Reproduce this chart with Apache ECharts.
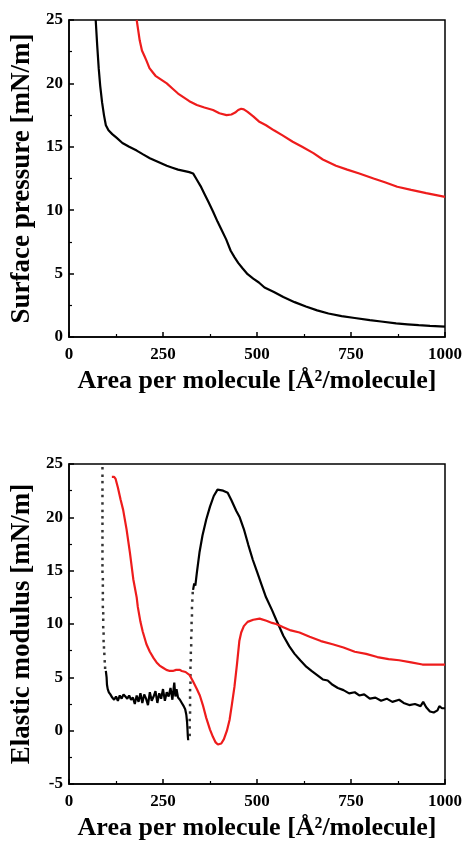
<!DOCTYPE html>
<html>
<head>
<meta charset="utf-8">
<script src="https://cdn.jsdelivr.net/npm/echarts@6/dist/echarts.min.js"></script>
<style>
  html, body { margin: 0; padding: 0; background: #fff; }
  #chart { width: 465px; height: 843px; }
</style>
</head>
<body>
<div id="chart"></div>
<script>
// surface pressure isotherms
const pressureBlackX = [71, 75, 79, 83, 88, 93, 98, 105, 115, 127, 142, 160, 180, 197, 215, 230, 245, 260, 275, 290, 305, 320, 330, 340, 350, 360, 370, 383, 395, 405, 418, 430, 440, 450, 462, 475, 490, 505, 520, 545, 570, 600, 630, 660, 690, 725, 760, 800, 830, 870, 900, 930, 960, 1000]
const pressureBlackY = [25, 23, 21.2, 19.8, 18.5, 17.5, 16.7, 16.3, 16.0, 15.7, 15.3, 15.0, 14.7, 14.4, 14.1, 13.9, 13.7, 13.5, 13.35, 13.2, 13.1, 13.0, 12.9, 12.4, 11.9, 11.3, 10.7, 9.9, 9.1, 8.5, 7.7, 6.8, 6.3, 5.85, 5.4, 4.95, 4.6, 4.3, 3.9, 3.55, 3.15, 2.75, 2.4, 2.1, 1.85, 1.65, 1.5, 1.33, 1.22, 1.07, 1.0, 0.93, 0.88, 0.82]

const pressureRedX = [180, 184, 188, 194, 200, 206, 214, 222, 230, 245, 260, 275, 290, 305, 320, 340, 360, 383, 400, 419, 432, 442, 450, 458, 465, 475, 490, 505, 524, 545, 568, 595, 620, 650, 675, 710, 740, 772, 810, 840, 873, 910, 950, 1000]
const pressureRedY = [25, 24.2, 23.4, 22.6, 22.2, 21.8, 21.2, 20.9, 20.6, 20.3, 20.0, 19.6, 19.2, 18.9, 18.6, 18.3, 18.1, 17.9, 17.65, 17.5, 17.55, 17.7, 17.9, 18.0, 17.95, 17.75, 17.4, 17.0, 16.7, 16.3, 15.9, 15.4, 15.0, 14.5, 14.0, 13.5, 13.2, 12.9, 12.5, 12.2, 11.85, 11.6, 11.35, 11.05]

// elastic modulus, black: sparse dots + dense parts
const elasticBlackDots1X = [89, 89, 89, 89, 89, 89, 89, 89, 89, 89, 89, 89, 89, 89, 89, 89, 90, 90, 90, 90, 90, 91, 91, 91, 92, 92, 93, 94, 95, 96]
const elasticBlackDots1Y = [24.6, 23.9, 23.3, 22.6, 22.0, 21.3, 20.6, 20.0, 19.4, 18.7, 18.1, 17.4, 16.8, 16.1, 15.5, 14.9, 14.2, 13.6, 12.9, 12.3, 11.6, 11.0, 10.4, 9.7, 9.1, 8.4, 7.8, 7.2, 6.5, 5.9]

const elasticBlackAX = [98, 100, 101, 103, 106, 110, 115, 120, 125, 130, 135, 140, 145, 150, 155, 160, 165, 170, 175, 180, 185, 190, 195, 200, 205, 210, 215, 220, 225, 230, 235, 240, 245, 250, 255, 260, 265, 270, 275, 280, 283, 286, 290, 295, 300, 305, 309, 312, 314, 315, 316, 317]
const elasticBlackAY = [5.6, 5.0, 4.3, 3.9, 3.6, 3.4, 3.1, 2.9, 3.2, 2.8, 3.3, 3.0, 3.4, 3.2, 3.0, 3.3, 2.9, 3.1, 2.5, 3.3, 2.7, 3.5, 2.6, 3.4, 3.0, 2.4, 3.6, 2.8, 3.2, 3.7, 2.6, 3.5, 3.0, 3.9, 2.8, 3.6, 3.2, 4.0, 2.9, 4.5, 3.2, 3.9, 3.1, 2.9, 2.6, 2.3, 2.0, 1.5, 0.8, 0.2, -0.5, -0.9]

const elasticBlackDots2X = [321, 321, 321, 322, 322, 322, 322, 323, 323, 323, 324, 324, 325, 325, 326, 326, 327, 327, 328, 329]
const elasticBlackDots2Y = [-0.4, 0.3, 1.0, 1.7, 2.4, 3.1, 3.8, 4.5, 5.2, 5.9, 6.6, 7.3, 8.0, 8.7, 9.4, 10.1, 10.8, 11.5, 12.2, 12.9]

const elasticBlackBX = [330, 333, 336, 340, 347, 355, 365, 375, 385, 395, 400, 410, 422, 432, 445, 454, 465, 477, 489, 500, 512, 524, 540, 551, 560, 570, 586, 600, 615, 631, 645, 660, 675, 688, 701, 715, 730, 745, 760, 772, 785, 800, 815, 830, 845, 860, 878, 890, 905, 920, 935, 942, 950, 960, 970, 980, 985, 992, 1000]
const elasticBlackBY = [13.2, 13.8, 13.6, 14.8, 16.7, 18.3, 19.8, 21.0, 22.0, 22.6, 22.6, 22.5, 22.3, 21.6, 20.6, 20.0, 18.9, 17.4, 16.0, 14.9, 13.7, 12.5, 11.3, 10.4, 9.7, 8.9, 7.9, 7.2, 6.6, 6.0, 5.6, 5.2, 4.8, 4.7, 4.3, 4.0, 3.8, 3.5, 3.6, 3.3, 3.4, 3.0, 3.1, 2.8, 3.0, 2.7, 2.9, 2.6, 2.4, 2.5, 2.3, 2.7, 2.2, 1.8, 1.7, 1.9, 2.3, 2.1, 2.1]

const elasticRedX = [114, 120, 124, 130, 137, 144, 153, 162, 171, 180, 183, 190, 196, 206, 215, 225, 233, 241, 250, 259, 268, 276, 285, 294, 300, 310, 321, 330, 340, 348, 356, 365, 375, 383, 390, 396, 405, 412, 420, 427, 433, 440, 447, 453, 458, 465, 475, 490, 507, 525, 540, 551, 570, 590, 613, 640, 670, 701, 730, 760, 790, 820, 850, 878, 910, 940, 970, 1000]
const elasticRedY = [23.8, 23.8, 23.6, 22.8, 21.7, 20.7, 18.9, 16.7, 14.2, 12.5, 11.6, 10.2, 9.3, 8.1, 7.4, 6.8, 6.4, 6.1, 5.9, 5.7, 5.6, 5.6, 5.7, 5.7, 5.6, 5.5, 5.2, 4.6, 3.9, 3.3, 2.4, 1.2, 0.1, -0.6, -1.1, -1.3, -1.2, -0.8, 0.0, 1.0, 2.4, 4.1, 6.3, 8.4, 9.2, 9.8, 10.2, 10.4, 10.5, 10.3, 10.1, 10.0, 9.7, 9.4, 9.2, 8.8, 8.4, 8.1, 7.8, 7.4, 7.2, 6.9, 6.7, 6.6, 6.4, 6.2, 6.2, 6.2]

const xTicks = [0, 250, 500, 750, 1000]

const zip = (xs, ys) => xs.map((x, i) => [x, ys[i]])

const font = 'Liberation Serif, Times New Roman, serif'
const labelStyle = { color: '#000', fontFamily: font, fontWeight: 'bold', fontSize: 17 }
const xNameStyle = { color: '#000', fontFamily: font, fontWeight: 'bold', fontSize: 26 }
const yNameStyle = { color: '#000', fontFamily: font, fontWeight: 'bold', fontSize: 27 }

function xAxisFor(gridIndex) {
    return {
        type: 'value', gridIndex: gridIndex,
        min: xTicks[0], max: xTicks[xTicks.length - 1], interval: 250,
        name: 'Area per molecule [Å²/molecule]',
        nameLocation: 'middle', nameGap: 31, nameTextStyle: xNameStyle,
        axisLine: { show: true, onZero: false, lineStyle: { color: '#000', width: 1.5 } },
        axisTick: { inside: true, length: 5, lineStyle: { color: '#000', width: 1.5 } },
        minorTick: { show: true, splitNumber: 2, length: 3, lineStyle: { color: '#000', width: 1.2 } },
        axisLabel: Object.assign({ margin: 9, formatter: v => String(v) }, labelStyle),
        splitLine: { show: false }
    }
}

function yAxisFor(gridIndex, name, min) {
    return {
        type: 'value', gridIndex: gridIndex,
        min: min, max: 25, interval: 5,
        name: name,
        nameLocation: 'middle', nameGap: 30, nameTextStyle: yNameStyle,
        axisLine: { show: true, onZero: false, lineStyle: { color: '#000', width: 1.5 } },
        axisTick: { inside: true, length: 5, lineStyle: { color: '#000', width: 1.5 } },
        minorTick: { show: true, splitNumber: 2, length: 3, lineStyle: { color: '#000', width: 1.2 } },
        axisLabel: Object.assign({ margin: 6, formatter: v => String(v) }, labelStyle),
        splitLine: { show: false }
    }
}

function lineSeries(idx, data, color) {
    return {
        type: 'line', xAxisIndex: idx, yAxisIndex: idx,
        data: data, showSymbol: false, symbol: 'none',
        lineStyle: { color: color, width: 2.2 }, animation: false
    }
}

function dotSeries(idx, data) {
    return {
        type: 'scatter', xAxisIndex: idx, yAxisIndex: idx,
        data: data, symbol: 'rect', symbolSize: 2.5,
        itemStyle: { color: '#000' }, animation: false
    }
}

const chart = echarts.init(document.getElementById('chart'))
chart.setOption({
    backgroundColor: '#fff',
    animation: false,
    grid: [
        { left: 69, top: 20, width: 377, height: 317, show: true, borderColor: '#000', borderWidth: 1.5 },
        { left: 69, top: 464, width: 377, height: 320, show: true, borderColor: '#000', borderWidth: 1.5 }
    ],
    xAxis: [xAxisFor(0), xAxisFor(1)],
    yAxis: [yAxisFor(0, 'Surface pressure [mN/m]', 0), yAxisFor(1, 'Elastic modulus [mN/m]', -5)],
    series: [
        lineSeries(0, zip(pressureBlackX, pressureBlackY), '#000'),
        lineSeries(0, zip(pressureRedX, pressureRedY), '#ee1c1c'),
        dotSeries(1, zip(elasticBlackDots1X, elasticBlackDots1Y)),
        lineSeries(1, zip(elasticBlackAX, elasticBlackAY), '#000'),
        dotSeries(1, zip(elasticBlackDots2X, elasticBlackDots2Y)),
        lineSeries(1, zip(elasticBlackBX, elasticBlackBY), '#000'),
        lineSeries(1, zip(elasticRedX, elasticRedY), '#ee1c1c')
    ]
})
</script>
</body>
</html>
